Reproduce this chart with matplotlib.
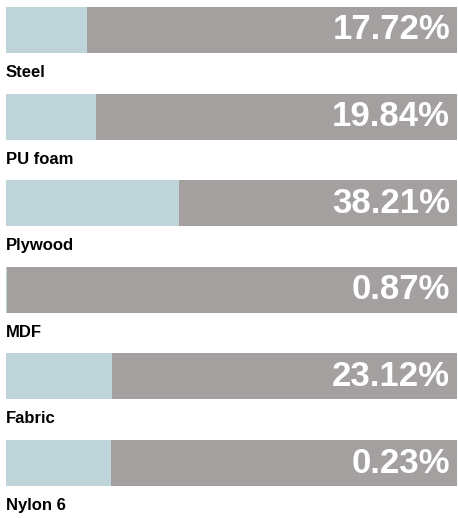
import matplotlib.pyplot as plt

materials = ['Steel', 'PU foam', 'Plywood', 'MDF', 'Fabric', 'Nylon 6']
labels = ['17.72%', '19.84%', '38.21%', '0.87%', '23.12%', '0.23%']
# filled (blue) share of each bar
fill = [17.9, 20.0, 38.4, 0.3, 23.4, 23.3]

blue = '#bfd4d8'
grey = '#a3a09f'

plt.rcParams['font.family'] = ['Liberation Sans', 'DejaVu Sans']

fig = plt.figure(figsize=(4.58, 5.18), dpi=100)
ax = fig.add_axes([6 / 458, 0, 451 / 458, 1])

rows = range(len(materials))
ax.barh(rows, [100] * len(materials), height=0.53, color=grey, linewidth=0)
ax.barh(rows, fill, height=0.53, color=blue, linewidth=0)

for i, (name, lab) in enumerate(zip(materials, labels)):
    ax.annotate(lab, xy=(100, i), xytext=(-5, 0), textcoords='offset points',
                ha='right', va='center', color='white', fontsize=25, fontweight='bold')
    ax.text(0, i + 0.49, name, ha='left', va='center', fontsize=12, fontweight='bold')

ax.set_xlim(0, 100)
ax.set_ylim(5.635, -0.346)
ax.axis('off')

fig.savefig('out.png', dpi=100)
